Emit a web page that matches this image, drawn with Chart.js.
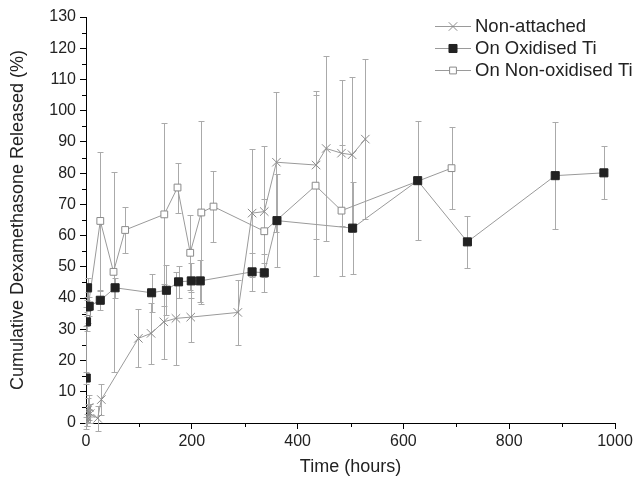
<!DOCTYPE html>
<html>
<head>
<meta charset="utf-8">
<script src="https://cdn.jsdelivr.net/npm/chart.js@4"></script>
<style>
  body { margin: 0; background: #fff; }
</style>
</head>
<body>
<canvas id="chart" width="637" height="483"></canvas>
<script>
// time in hours, release in %, error = half bar length
const nonAttachedHours = [0.5, 1, 2, 3, 4, 6, 8, 22, 29, 99, 123, 147, 170, 198, 287, 314, 337, 360, 435, 454, 483, 503, 528];
const nonAttachedValues = [0, 2, 1, 4, 3, 5, 3, 1.5, 7.5, 27.1, 28.7, 32.4, 33.5, 33.9, 35.4, 67.2, 67.7, 83.5, 82.6, 87.9, 86.4, 85.9, 90.9];
const nonAttachedErrors = [2, 3, 2, 4, 3, 4, 3, 4, 5, 9.3, 9.8, 12, 15, 8, 10.3, 20.5, 21, 22.5, 23.7, 29.5, 23.3, 24.9, 25.7];

const oxidisedHours = [0.5, 1, 2, 3, 6, 27, 55, 124, 152, 175, 199, 216, 314, 337, 361, 504, 627, 721, 887, 979];
const oxidisedValues = [14.4, 32.4, 37.2, 43.3, 37.4, 39.3, 43.3, 41.7, 42.5, 45.2, 45.5, 45.5, 48.4, 48.1, 64.8, 62.4, 77.6, 58, 79.2, 80.1];
const oxidisedErrors = [2, 3, 3, 3, 3, 3, 3.2, 6, 8, 5.2, 5.6, 6.6, 6, 6, 15, 14.8, 19, 8.4, 17.1, 8.5];

const nonOxidisedHours = [0.5, 2, 4, 27, 52, 74, 148, 173, 197, 218, 241, 337, 434, 483, 691];
const nonOxidisedValues = [34, 35.5, 37, 64.7, 48.4, 61.8, 66.8, 75.4, 54.5, 67.4, 69.3, 61.4, 76, 68, 81.6];
const nonOxidisedErrors = [3, 4, 5, 22.2, 32, 7.3, 29.2, 8, 12, 29.2, 11.3, 10.3, 29, 21, 13.2];

const seriesNames = ["Non-attached", "On Oxidised Ti", "On Non-oxidised Ti"];

const FONT = "'Liberation Sans', Arial, Helvetica, sans-serif";
const LINE = "#9a9a9a";
const BAR = "#aaaaaa";

function points(hours, values) {
  return hours.map((h, i) => ({ x: h, y: values[i] }));
}

const errorBars = {
  id: "errorBars",
  beforeDatasetsDraw(chart) {
    const { ctx, scales: { x, y } } = chart;
    ctx.save();
    ctx.strokeStyle = BAR;
    ctx.lineWidth = 1;
    chart.data.datasets.forEach((ds) => {
      ds.data.forEach((p, i) => {
        const e = ds.errors[i];
        const px = Math.round(x.getPixelForValue(p.x)) + 0.5;
        const top = Math.round(y.getPixelForValue(p.y + e)) + 0.5;
        const bot = Math.round(y.getPixelForValue(p.y - e)) + 0.5;
        ctx.beginPath();
        ctx.moveTo(px, top);
        ctx.lineTo(px, bot);
        ctx.moveTo(px - 3, top);
        ctx.lineTo(px + 3, top);
        ctx.moveTo(px - 3, bot);
        ctx.lineTo(px + 3, bot);
        ctx.stroke();
      });
    });
    ctx.restore();
  },
};

// minor ticks + legend
const extras = {
  id: "extras",
  afterDraw(chart) {
    const { ctx, scales: { x, y } } = chart;
    ctx.save();
    ctx.strokeStyle = "#000";
    ctx.lineWidth = 1;
    ctx.beginPath();
    for (let v = 5; v < 130; v += 10) {
      const py = Math.round(y.getPixelForValue(v)) + 0.5;
      ctx.moveTo(x.left - 4, py);
      ctx.lineTo(x.left, py);
    }
    for (let v = 100; v < 1000; v += 200) {
      const px = Math.round(x.getPixelForValue(v)) + 0.5;
      ctx.moveTo(px, y.bottom);
      ctx.lineTo(px, y.bottom + 4);
    }
    ctx.stroke();

    const rows = [26, 48, 70];
    chart.data.datasets.forEach((ds, i) => {
      const ly = rows[i] + 0.5;
      ctx.strokeStyle = LINE;
      ctx.beginPath();
      ctx.moveTo(435, ly);
      ctx.lineTo(471, ly);
      ctx.stroke();
      ctx.fillStyle = ds.pointBackgroundColor;
      ctx.strokeStyle = ds.pointBorderColor;
      Chart.helpers.drawPoint(ctx, {
        pointStyle: ds.pointStyle,
        radius: ds.pointRadius,
        rotation: 0,
        borderWidth: 1,
      }, 453, ly);
      ctx.fillStyle = "#222";
      ctx.font = "18.5px " + FONT;
      ctx.textBaseline = "middle";
      ctx.textAlign = "left";
      ctx.fillText(seriesNames[i], 475, ly);
    });
    ctx.restore();
  },
};

new Chart(document.getElementById("chart"), {
  type: "scatter",
  data: {
    datasets: [
      {
        label: seriesNames[0],
        data: points(nonAttachedHours, nonAttachedValues),
        errors: nonAttachedErrors,
        showLine: true,
        borderColor: LINE,
        borderWidth: 1,
        pointStyle: "crossRot",
        pointRadius: 6,
        pointBorderColor: "#8a8a8a",
        pointBackgroundColor: "rgba(0,0,0,0)",
        pointBorderWidth: 1,
      },
      {
        label: seriesNames[1],
        data: points(oxidisedHours, oxidisedValues),
        errors: oxidisedErrors,
        showLine: true,
        borderColor: LINE,
        borderWidth: 1,
        pointStyle: "rect",
        pointRadius: 5.7,
        pointBorderColor: "#222",
        pointBackgroundColor: "#222",
        pointBorderWidth: 1,
      },
      {
        label: seriesNames[2],
        data: points(nonOxidisedHours, nonOxidisedValues),
        errors: nonOxidisedErrors,
        showLine: true,
        borderColor: LINE,
        borderWidth: 1,
        pointStyle: "rect",
        pointRadius: 4.8,
        pointBorderColor: "#8a8a8a",
        pointBackgroundColor: "#fff",
        pointBorderWidth: 1,
      },
    ],
  },
  options: {
    responsive: false,
    animation: false,
    devicePixelRatio: 1,
    layout: { padding: { top: 17, right: 22, left: 0, bottom: 0 } },
    plugins: { legend: { display: false }, tooltip: { enabled: false } },
    scales: {
      x: {
        type: "linear",
        min: 0,
        max: 1000,
        afterFit(scale) { scale.height = 60; },
        ticks: {
          stepSize: 200,
          color: "#222",
          padding: 3,
          font: { family: FONT, size: 16 },
          callback: (v) => String(v),
        },
        grid: { drawOnChartArea: false, tickLength: 6, tickColor: "#000" },
        border: { color: "#000", width: 1 },
        title: { display: true, text: "Time (hours)", color: "#222", font: { family: FONT, size: 18 }, padding: { bottom: 5 } },
      },
      y: {
        type: "linear",
        min: 0,
        max: 130,
        afterFit(scale) { scale.width = 86; },
        ticks: { stepSize: 10, color: "#222", padding: 4, font: { family: FONT, size: 16 }, callback: (v) => String(v) },
        grid: { drawOnChartArea: false, tickLength: 6, tickColor: "#000" },
        border: { color: "#000", width: 1 },
        title: { display: true, text: "Cumulative Dexamethasone Released (%)", color: "#222", font: { family: FONT, size: 18 }, padding: { top: 7 } },
      },
    },
  },
  plugins: [errorBars, extras],
});
</script>
</body>
</html>
